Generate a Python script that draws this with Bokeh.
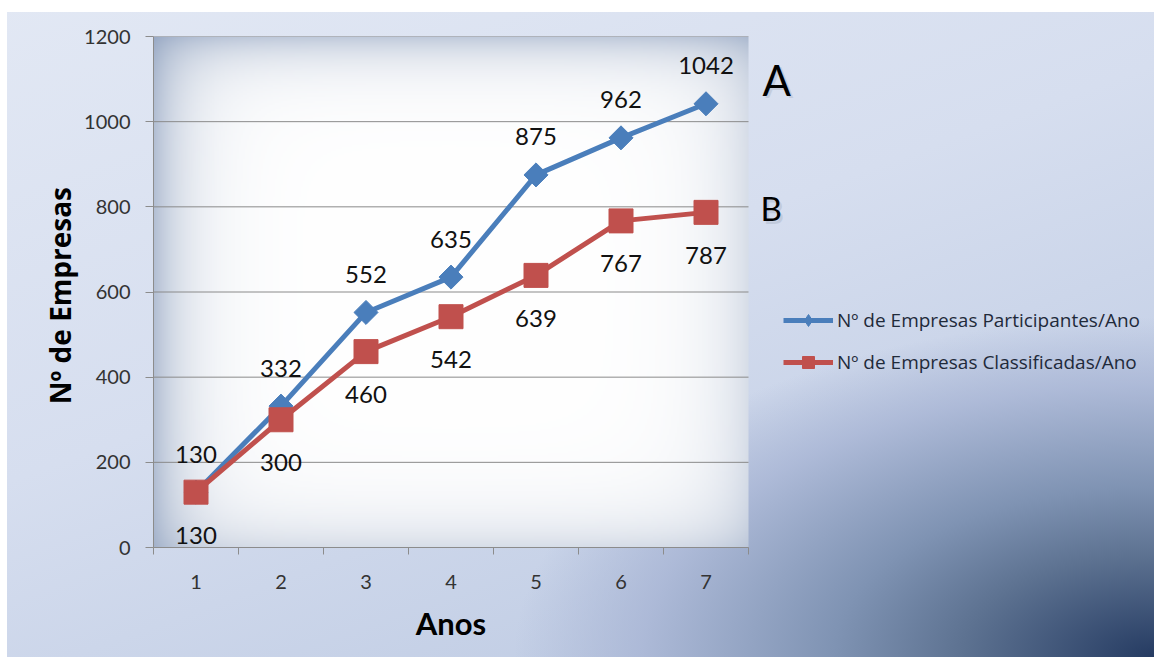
import numpy as np
from bokeh.plotting import figure
from bokeh.models import FixedTicker, Legend, LegendItem, Label, LinearAxis
from bokeh.core.properties import value
from bokeh.embed import file_html
from bokeh.resources import INLINE

# ---- data ----
anos = [1, 2, 3, 4, 5, 6, 7]
participantes = [130, 332, 552, 635, 875, 962, 1042]
classificadas = [130, 300, 460, 542, 639, 767, 787]
y_ticks = [0, 200, 400, 600, 800, 1000, 1200]
nome_participantes = "Nº de Empresas Participantes/Ano"
nome_classificadas = "Nº de Empresas Classificadas/Ano"
titulo_y = "Nº  de Empresas"
titulo_x = "Anos"

FONT = "Lato"
FONT2 = "Open Sans"
W, H = 1154, 657
LEFT, TOP, BOTTOM, RIGHT = 153, 36, 110, 0
PX_PER_YEAR = 85.0
XMIN = anos[0] - 0.5
XEND = anos[-1] + 0.5
XMAX = XMIN + (W - LEFT - RIGHT) / PX_PER_YEAR

p = figure(width=W, height=H, x_range=(XMIN, XMAX), y_range=(0, 1200),
           output_backend="svg", toolbar_location=None,
           min_border_left=LEFT, min_border_right=RIGHT,
           min_border_top=TOP, min_border_bottom=BOTTOM)

p.background_fill_alpha = 0
p.border_fill_alpha = 0
p.outline_line_color = None
p.styles = {"background": (
    "linear-gradient(#ffffff,#ffffff) 0 0 / 100% 12px no-repeat, "
    "linear-gradient(#ffffff,#ffffff) 0 0 / 7px 100% no-repeat, "
    "radial-gradient(ellipse 640px 340px at 100% 100%, #253b62 0%, #5d7291 30%, "
    "#7f93b3 50%, rgba(169,182,213,0.85) 80%, rgba(180,195,225,0) 100%), "
    "linear-gradient(160deg, #e2e8f4 0%, #d6deef 45%, #b8c6e0 100%)")}

# frame vignette (decorative background of the plot area)
NW, NH = 300, 256
px = np.linspace(0, 595, NW)[None, :]
py = np.linspace(0, 511, NH)[:, None]  # from bottom
l = 0.58 * np.exp(-px / 34.0)
r = 0.30 * np.exp(-(595 - px) / 38.0)
t = 0.48 * np.exp(-(511 - py) / 26.0)
b = 0.30 * np.exp(-py / 32.0)
d = 1 - (1 - l) * (1 - r) * (1 - t) * (1 - b)
base = np.array([125, 146, 181])
rgb = 255 * (1 - d[..., None]) + base[None, None, :] * d[..., None]
img = np.zeros((NH, NW), dtype=np.uint32)
view = img.view(dtype=np.uint8).reshape((NH, NW, 4))
view[..., 0] = rgb[..., 0].astype(np.uint8)
view[..., 1] = rgb[..., 1].astype(np.uint8)
view[..., 2] = rgb[..., 2].astype(np.uint8)
view[..., 3] = 255
p.image_rgba(image=[img], x=XMIN, y=0, dw=len(anos), dh=1200, level="image")

# grid lines (only across the plot area)
p.xgrid.visible = False
p.ygrid.visible = False
p.segment(x0=[XMIN] * len(y_ticks), y0=y_ticks, x1=[XEND] * len(y_ticks), y1=y_ticks,
          line_color="#8a8a8a", line_width=1, level="underlay")

p.yaxis.ticker = FixedTicker(ticks=y_ticks)
p.xaxis.ticker = FixedTicker(ticks=anos, minor_ticks=[a - 0.5 for a in anos] + [XEND])
p.xaxis.bounds = (XMIN, XEND)
for ax in (p.xaxis[0], p.yaxis[0]):
    ax.axis_line_color = "#8c8c8c"
    ax.major_tick_line_color = "#8c8c8c"
    ax.minor_tick_line_color = "#8c8c8c"
    ax.major_label_text_font = FONT
    ax.major_label_text_font_size = "20px"
    ax.major_label_text_color = "#333333"
p.yaxis.major_tick_out = 8
p.yaxis.major_tick_in = 0
p.yaxis.minor_tick_out = 0
p.yaxis.minor_tick_in = 0
p.yaxis.major_label_standoff = 15
p.yaxis.axis_label = titulo_y
p.yaxis.axis_label_text_font = FONT2
p.yaxis.axis_label_text_font_style = "bold"
p.yaxis.axis_label_text_color = "#000000"
p.yaxis.axis_label_text_font_size = "28px"
p.yaxis.axis_label_standoff = 2
p.xaxis.major_tick_out = 0
p.xaxis.major_tick_in = 0
p.xaxis.minor_tick_out = 7
p.xaxis.minor_tick_in = 0
p.xaxis.major_label_standoff = 20

# x-axis title centred under the years (second, label-only axis)
centro = sum(anos) / len(anos)
ax_titulo = LinearAxis(ticker=FixedTicker(ticks=[centro]),
                       major_label_overrides={centro: titulo_x},
                       axis_line_color=None, major_tick_line_color=None,
                       minor_tick_line_color=None, major_label_standoff=6,
                       major_label_text_font=FONT, major_label_text_font_style="bold",
                       major_label_text_font_size="31px", major_label_text_color="#000000")
p.add_layout(ax_titulo, "below")

BLUE = "#4A7EBB"
RED = "#C0504D"

lb = p.line(anos, participantes, line_color=BLUE, line_width=5)
sb = p.scatter(anos, participantes, marker="square", angle=np.pi / 4, size=17,
               fill_color=BLUE, line_color=BLUE)
sb_leg = p.scatter(anos, participantes, marker="diamond", size=18,
                   fill_color=BLUE, line_color=BLUE, visible=False)
lr = p.line(anos, classificadas, line_color=RED, line_width=5)
sr = p.scatter(anos, classificadas, marker="square", size=24,
               fill_color=RED, line_color=RED)

p.text(x=anos, y=participantes, text=[str(v) for v in participantes], y_offset=-38,
       text_align="center", text_baseline="middle", text_font=value(FONT),
       text_font_size="24px", text_color="#111111")
p.text(x=anos, y=classificadas, text=[str(v) for v in classificadas], y_offset=43,
       text_align="center", text_baseline="middle", text_font=value(FONT),
       text_font_size="24px", text_color="#111111")

for txt, x, y, fs in (("A", 7.665, 1099, "42px"), ("B", 7.64, 798, "33px")):
    p.add_layout(Label(x=x + 0.03, y=y - 7, text=txt, text_align="left", text_baseline="middle",
                       text_font=FONT, text_font_size=fs, text_color="#8793a6", text_alpha=0.25))
    p.add_layout(Label(x=x, y=y, text=txt, text_align="left", text_baseline="middle",
                       text_font=FONT, text_font_size=fs, text_color="#000000"))

legend = Legend(items=[LegendItem(label=nome_participantes, renderers=[lb, sb_leg]),
                       LegendItem(label=nome_classificadas, renderers=[lr, sr])],
                location=(630, 170))
legend.background_fill_alpha = 0
legend.border_line_alpha = 0
legend.inactive_fill_alpha = 0
legend.padding = 0
legend.margin = 0
legend.glyph_width = 50
legend.glyph_height = 30
legend.spacing = 12
legend.label_standoff = 4
legend.label_text_font = FONT2
legend.label_text_font_size = "19px"
legend.label_text_color = "#1f2a3a"
p.add_layout(legend)

open("out.html", "w").write(file_html(p, INLINE))
